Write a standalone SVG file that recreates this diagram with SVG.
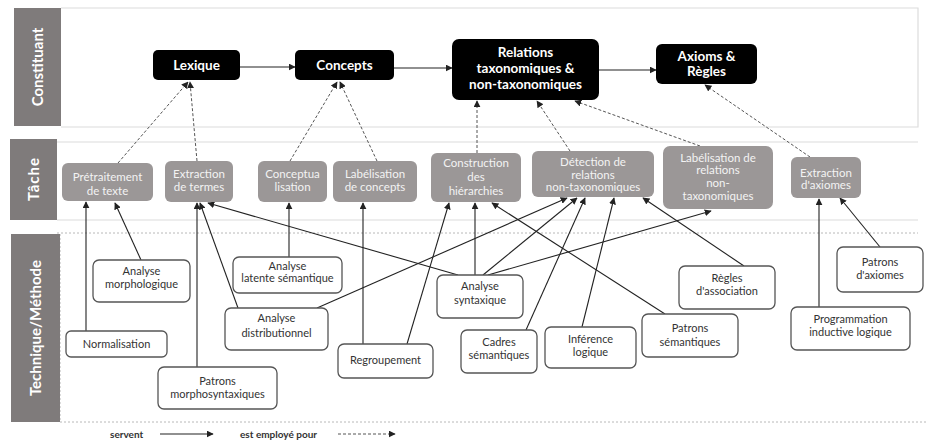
<svg xmlns="http://www.w3.org/2000/svg" width="926" height="441" viewBox="0 0 926 441">
  <style>
    .band { fill: #7f7b7b; }
    .bandtxt { fill: #ffffff; font-family: Lato, "Open Sans", sans-serif; font-weight: bold; font-size: 15px; text-anchor: middle; }
    .sep { stroke: #dcdcdc; stroke-width: 1.2; fill: none; }
    .sepdash { stroke: #b8b8b8; stroke-width: 1; stroke-dasharray: 2 2; fill: none; }
    .cons rect { fill: #000000; }
    .cons text { fill: #ffffff; font-family: Lato, "Open Sans", sans-serif; font-weight: bold; font-size: 13.5px; text-anchor: middle; }
    .task rect { fill: #9b9797; }
    .task text { fill: #f3f3f3; font-family: Lato, "Open Sans", sans-serif; font-size: 11.5px; text-anchor: middle; }
    .meth rect { fill: #ffffff; stroke: #555555; stroke-width: 1.3; }
    .meth text { fill: #333333; font-family: Lato, "Open Sans", sans-serif; font-size: 11px; text-anchor: middle; }
    .solid { stroke: #222222; stroke-width: 1.1; fill: none; marker-end: url(#head); }
    .dash { stroke: #555555; stroke-width: 1; stroke-dasharray: 3 2; fill: none; marker-end: url(#head); }
    .legend { fill: #333333; font-family: Lato, "Open Sans", sans-serif; font-weight: bold; font-size: 10px; }
  </style>
  <defs>
    <marker id="head" viewBox="0 0 10 10" refX="9" refY="5" markerWidth="7" markerHeight="7" markerUnits="userSpaceOnUse" orient="auto">
      <path d="M0,0 L10,5 L0,10 z" fill="#222222"/>
    </marker>
  </defs>

  <rect width="926" height="441" fill="#ffffff"/>

  <!-- band frames -->
  <g id="bands">
    <path class="sep" d="M61,8 H918 V127 H61"/>
    <path class="sep" d="M57,142 H918"/>
    <path class="sep" d="M57,220 H918"/>
    <path class="sepdash" d="M57,233 H918"/>
    <path class="sepdash" d="M60,422 H926"/>
    <path class="sepdash" d="M60,234 V422"/>
    <rect class="band" x="14" y="8" width="47" height="118"/>
    <text class="bandtxt" transform="translate(43,67) rotate(-90)">Constituant</text>
    <rect class="band" x="10" y="139" width="47" height="81"/>
    <text class="bandtxt" letter-spacing="1" transform="translate(39,179) rotate(-90)">Tâche</text>
    <rect class="band" x="11" y="234" width="49" height="188"/>
    <text class="bandtxt" transform="translate(41,328) rotate(-90)">Technique/Méthode</text>
  </g>

  <!-- connectors -->
  <g id="connectors">
    <!-- constituant chain -->
    <line class="solid" x1="240" y1="67" x2="295" y2="67"/>
    <line class="solid" x1="394" y1="68" x2="452" y2="68"/>
    <line class="solid" x1="599" y1="70" x2="656" y2="70"/>
    <!-- task to constituant -->
    <line class="dash" x1="118" y1="163" x2="188" y2="82"/>
    <line class="dash" x1="197" y1="161" x2="190" y2="82"/>
    <line class="dash" x1="290" y1="161" x2="337" y2="82"/>
    <line class="dash" x1="377" y1="161" x2="340" y2="82"/>
    <line class="dash" x1="477" y1="153" x2="477" y2="101"/>
    <line class="dash" x1="570" y1="151" x2="537" y2="101"/>
    <line class="dash" x1="700" y1="146" x2="575" y2="101"/>
    <line class="dash" x1="810" y1="157" x2="705" y2="85"/>
    <!-- method to task -->
    <line class="solid" x1="86" y1="331" x2="86" y2="202"/>
    <line class="solid" x1="141" y1="260" x2="115" y2="203"/>
    <line class="solid" x1="197" y1="367" x2="197" y2="203"/>
    <line class="solid" x1="238" y1="308" x2="200" y2="203"/>
    <line class="solid" x1="458" y1="275" x2="208" y2="203"/>
    <line class="solid" x1="289" y1="257" x2="289" y2="203"/>
    <line class="solid" x1="363" y1="344" x2="363" y2="203"/>
    <line class="solid" x1="407" y1="344" x2="449" y2="203"/>
    <line class="solid" x1="475" y1="275" x2="475" y2="203"/>
    <line class="solid" x1="665" y1="314" x2="492" y2="203"/>
    <line class="solid" x1="317" y1="308" x2="567" y2="198"/>
    <line class="solid" x1="483" y1="275" x2="577" y2="198"/>
    <line class="solid" x1="488" y1="275" x2="711" y2="211"/>
    <line class="solid" x1="526" y1="330" x2="585" y2="198"/>
    <line class="solid" x1="582" y1="327" x2="614" y2="198"/>
    <line class="solid" x1="744" y1="266" x2="643" y2="198"/>
    <line class="solid" x1="819" y1="307" x2="819" y2="199"/>
    <line class="solid" x1="880" y1="247" x2="840" y2="198"/>
  </g>

  <!-- constituants -->
  <g id="lexique" class="cons">
    <rect x="153" y="50" width="87" height="30" rx="5"/>
    <text x="196.5" y="70">Lexique</text>
  </g>
  <g id="concepts" class="cons">
    <rect x="295" y="50" width="99" height="30" rx="5"/>
    <text x="344.5" y="70">Concepts</text>
  </g>
  <g id="relations" class="cons">
    <rect x="452" y="39" width="147" height="61" rx="7"/>
    <text x="525.5" y="57">Relations</text>
    <text x="525.5" y="73">taxonomiques &amp;</text>
    <text x="525.5" y="89">non-taxonomiques</text>
  </g>
  <g id="axioms" class="cons">
    <rect x="656" y="44" width="101" height="40" rx="6"/>
    <text x="706.5" y="61">Axioms &amp;</text>
    <text x="706.5" y="76">Règles</text>
  </g>

  <!-- tasks -->
  <g id="pretraitement" class="task">
    <rect x="62" y="163" width="91" height="38" rx="6"/>
    <text x="107.5" y="181">Prétraitement</text>
    <text x="107.5" y="195">de texte</text>
  </g>
  <g id="extraction-termes" class="task">
    <rect x="165" y="161" width="68" height="41" rx="6"/>
    <text x="199" y="178">Extraction</text>
    <text x="199" y="191">de termes</text>
  </g>
  <g id="conceptualisation" class="task">
    <rect x="258" y="161" width="69" height="41" rx="6"/>
    <text x="292.5" y="178">Conceptua</text>
    <text x="292.5" y="191">lisation</text>
  </g>
  <g id="labelisation-concepts" class="task">
    <rect x="333" y="161" width="84" height="41" rx="6"/>
    <text x="375" y="178">Labélisation</text>
    <text x="375" y="191">de concepts</text>
  </g>
  <g id="construction" class="task">
    <rect x="431" y="153" width="90" height="49" rx="6"/>
    <text x="476" y="167">Construction</text>
    <text x="476" y="181">des</text>
    <text x="476" y="195">hiérarchies</text>
  </g>
  <g id="detection" class="task">
    <rect x="532" y="151" width="122" height="46" rx="6"/>
    <text x="593" y="166">Détection de</text>
    <text x="593" y="179">relations</text>
    <text x="593" y="191">non-taxonomiques</text>
  </g>
  <g id="labelisation-relations" class="task">
    <rect x="663" y="146" width="110" height="63" rx="7"/>
    <text x="718" y="162">Labélisation de</text>
    <text x="718" y="174">relations</text>
    <text x="718" y="187">non-</text>
    <text x="718" y="200">taxonomiques</text>
  </g>
  <g id="extraction-axiomes" class="task">
    <rect x="791" y="157" width="70" height="41" rx="6"/>
    <text x="826" y="177">Extraction</text>
    <text x="826" y="189">d'axiomes</text>
  </g>

  <!-- methods -->
  <g id="analyse-morphologique" class="meth">
    <rect x="93" y="260" width="97" height="42" rx="6"/>
    <text x="141.5" y="275">Analyse</text>
    <text x="141.5" y="288">morphologique</text>
  </g>
  <g id="normalisation" class="meth">
    <rect x="66" y="331" width="101" height="26" rx="5"/>
    <text x="116.5" y="348" font-size="12">Normalisation</text>
  </g>
  <g id="patrons-morphosyntaxiques" class="meth">
    <rect x="158" y="367" width="119" height="42" rx="6"/>
    <text x="217.5" y="385">Patrons</text>
    <text x="217.5" y="398">morphosyntaxiques</text>
  </g>
  <g id="analyse-latente" class="meth">
    <rect x="233" y="257" width="109" height="36" rx="6"/>
    <text x="287.5" y="270">Analyse</text>
    <text x="287.5" y="282">latente sémantique</text>
  </g>
  <g id="analyse-distributionnel" class="meth">
    <rect x="225" y="308" width="103" height="42" rx="6"/>
    <text x="276.5" y="322">Analyse</text>
    <text x="276.5" y="337">distributionnel</text>
  </g>
  <g id="regroupement" class="meth">
    <rect x="338" y="344" width="95" height="34" rx="6"/>
    <text x="385.5" y="364">Regroupement</text>
  </g>
  <g id="analyse-syntaxique" class="meth">
    <rect x="437" y="275" width="86" height="43" rx="6"/>
    <text x="480" y="290">Analyse</text>
    <text x="480" y="304">syntaxique</text>
  </g>
  <g id="cadres-semantiques" class="meth">
    <rect x="461" y="330" width="76" height="43" rx="6"/>
    <text x="499" y="346" font-size="10.5">Cadres</text>
    <text x="499" y="359" font-size="10.5">sémantiques</text>
  </g>
  <g id="inference-logique" class="meth">
    <rect x="545" y="327" width="91" height="41" rx="6"/>
    <text x="590.5" y="343">Inférence</text>
    <text x="590.5" y="356">logique</text>
  </g>
  <g id="patrons-semantiques" class="meth">
    <rect x="642" y="314" width="96" height="43" rx="6"/>
    <text x="690" y="332">Patrons</text>
    <text x="690" y="346">sémantiques</text>
  </g>
  <g id="regles-association" class="meth">
    <rect x="679" y="266" width="96" height="43" rx="6"/>
    <text x="727" y="282">Règles</text>
    <text x="727" y="295">d'association</text>
  </g>
  <g id="programmation-inductive" class="meth">
    <rect x="791" y="307" width="119" height="43" rx="6"/>
    <text x="850.5" y="323">Programmation</text>
    <text x="850.5" y="336">inductive logique</text>
  </g>
  <g id="patrons-axiomes" class="meth">
    <rect x="837" y="247" width="86" height="45" rx="6"/>
    <text x="880" y="266">Patrons</text>
    <text x="880" y="279">d'axiomes</text>
  </g>

  <!-- legend -->
  <g id="legend">
    <text class="legend" x="110" y="438">servent</text>
    <line class="solid" x1="160" y1="434" x2="213" y2="434"/>
    <text class="legend" x="240" y="438">est employé pour</text>
    <line class="dash" x1="338" y1="434" x2="395" y2="434"/>
  </g>
</svg>
